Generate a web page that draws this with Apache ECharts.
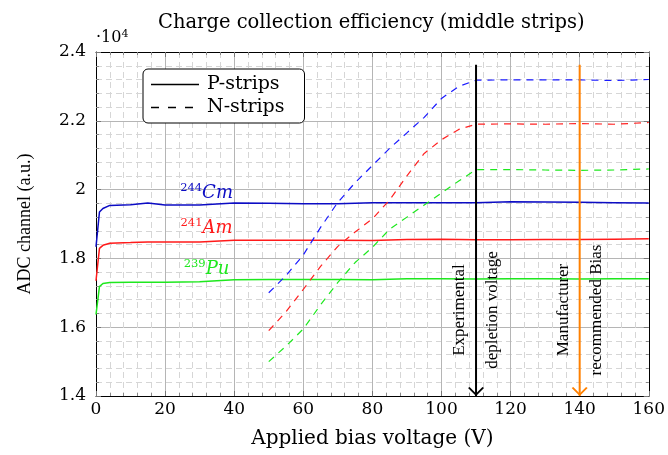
<!DOCTYPE html>
<html>
<head>
<meta charset="utf-8">
<script src="https://cdn.jsdelivr.net/npm/echarts@6/dist/echarts.min.js"></script>
<style>
  html, body { margin: 0; padding: 0; background: #fff; }
  #main { width: 668px; height: 455px; }
</style>
</head>
<body>
<div id="main"></div>
<script>
// bias voltage (V) for the P-strip scans
const voltsP = [0, 1, 2, 4, 10, 15, 20, 30, 40, 50, 60, 70, 80, 90, 100, 110, 120, 130, 140, 150, 160];
const cmP = [1.834, 1.935, 1.945, 1.954, 1.956, 1.961, 1.955, 1.955, 1.961, 1.960, 1.959, 1.959, 1.962, 1.962, 1.962, 1.962, 1.965, 1.964, 1.963, 1.962, 1.961];
const amP = [1.735, 1.829, 1.838, 1.844, 1.846, 1.848, 1.848, 1.848, 1.853, 1.853, 1.853, 1.853, 1.852, 1.855, 1.856, 1.854, 1.854, 1.855, 1.855, 1.856, 1.857];
const puP = [1.637, 1.718, 1.727, 1.730, 1.731, 1.731, 1.731, 1.732, 1.738, 1.739, 1.739, 1.739, 1.738, 1.741, 1.741, 1.740, 1.741, 1.741, 1.740, 1.741, 1.741];

// N-strip scans
const voltsN = [50, 55, 60, 65, 70, 75, 80, 85, 90, 95, 100, 105, 110, 120, 130, 140, 150, 160];
const cmN = [1.700, 1.750, 1.810, 1.890, 1.963, 2.020, 2.070, 2.120, 2.165, 2.210, 2.265, 2.300, 2.318, 2.319, 2.319, 2.319, 2.317, 2.320];
const amN = [1.590, 1.645, 1.710, 1.777, 1.835, 1.877, 1.915, 1.970, 2.040, 2.105, 2.145, 2.175, 2.190, 2.191, 2.190, 2.192, 2.190, 2.195];
const puN = [1.500, 1.545, 1.595, 1.665, 1.730, 1.788, 1.832, 1.885, 1.920, 1.955, 1.990, 2.025, 2.058, 2.058, 2.057, 2.056, 2.057, 2.060];

// x ticks / y ticks (in units of 10^4)
const xTicks = { min: 0, max: 160, step: 20 };
const yTicks = { min: 1.4, max: 2.4, step: 0.2 };

// marker lines
const depletionV = 110;
const recommendedV = 140;
const markerTop = 2.363;
const noteY = 1.65;

// isotope label positions [V, value]
const isoLabels = [
  { sup: '244', el: 'Cm', at: [32, 1.99] },
  { sup: '241', el: 'Am', at: [32, 1.887] },
  { sup: '239', el: 'Pu', at: [32, 1.769] }
];

const zip = (xs, ys) => xs.map((x, i) => [x, ys[i]]);

const serif = 'DejaVu Serif';
const narrow = 'Liberation Serif';
const chevron = 'path://M0,1 L1.6,0 L8,6.6 L14.4,0 L16,1 L8,9 Z';
// legend samples: a plain rule and a three-dash rule
const solidIcon = 'path://M0,0H48V1H0Z';
const dashIcon = 'path://M0,0H8V1H0Z M17,0H25V1H17Z M34,0H42V1H34Z M47.9,0H48V0.01H47.9Z';

function isoPoint(d, color) {
  return {
    coord: d.at, symbolSize: 0,
    label: {
      show: true, position: 'inside',
      formatter: '{s|' + d.sup + '}{e|' + d.el + '}',
      rich: {
        s: { fontFamily: serif, fontSize: 11.5, color: color, verticalAlign: 'top', lineHeight: 13 },
        e: { fontFamily: serif, fontSize: 18, fontStyle: 'italic', color: color, lineHeight: 22 }
      }
    }
  };
}

function solid(name, data, color, iso) {
  return {
    name: name, type: 'line', data: data, symbol: 'none', silent: true,
    lineStyle: { color: color, width: 1.5 }, z: 4,
    markPoint: { silent: true, data: [isoPoint(iso, color)] }
  };
}

function dashed(name, data, color) {
  return {
    name: name, type: 'line', data: data, symbol: 'none', silent: true,
    lineStyle: { color: color, width: 1.2, type: [7, 6] }, z: 4
  };
}

function marker(v, color, text) {
  return {
    type: 'line', data: [[v, markerTop], [v, yTicks.min]], symbol: 'none', silent: true,
    lineStyle: { color: color, width: 2 }, z: 5,
    markPoint: {
      silent: true,
      data: [
        { coord: [v, yTicks.min], symbol: chevron, symbolSize: [16, 9], symbolOffset: [0, '-50%'],
          itemStyle: { color: color }, label: { show: false } },
        { coord: [v, noteY], symbolSize: 0,
          label: { show: true, position: 'inside', rotate: 90, formatter: text,
            fontFamily: narrow, fontSize: 17, lineHeight: 33, color: '#000' } }
      ]
    }
  };
}

const tickFont = { fontFamily: serif, fontSize: 17, color: '#000' };
const minorGrid = { show: true, lineStyle: { color: '#d6d6d6', width: 1, type: [6, 4] } };
const majorGrid = { show: true, lineStyle: { color: '#b5b5b5', width: 1 } };
const axisTick = { show: true, inside: true, length: 5, lineStyle: { color: '#777' } };
const minorTick = { show: true, splitNumber: 5, length: 3, lineStyle: { color: '#888' } };

const chart = echarts.init(document.getElementById('main'));
chart.setOption({
  animation: false,
  backgroundColor: '#fff',
  title: [
    { text: 'Charge collection efficiency (middle strips)', left: 158, top: 13, padding: 0,
      textStyle: { fontFamily: serif, fontSize: 19.5, fontWeight: 'normal', color: '#000' } },
    { text: '{a|·10}{b|4}', left: 96, top: 29, padding: 0,
      textStyle: { fontWeight: 'normal', rich: {
        a: { fontFamily: serif, fontSize: 16, fontWeight: 'normal', color: '#000', lineHeight: 18 },
        b: { fontFamily: serif, fontSize: 11, fontWeight: 'normal', color: '#000', verticalAlign: 'top', lineHeight: 12 }
      } } }
  ],
  legend: {
    data: [{ name: 'P-strips', icon: solidIcon }, { name: 'N-strips', icon: dashIcon }],
    orient: 'vertical', left: 143, top: 69,
    itemWidth: 48, itemHeight: 1.5, itemGap: 2, symbolKeepAspect: false,
    padding: [5, 20, 5, 8],
    borderColor: '#000', borderWidth: 1, borderRadius: 5, backgroundColor: '#fff',
    itemStyle: { color: '#000', borderWidth: 0 },
    textStyle: { fontFamily: serif, fontSize: 19, color: '#000', lineHeight: 21, padding: [0, 0, 0, 3] },
    selectedMode: false
  },
  grid: { left: 96, right: 16, top: 52, bottom: 59 },
  xAxis: [
    { type: 'value', min: xTicks.min, max: xTicks.max, interval: xTicks.step,
      name: 'Applied bias voltage (V)', nameLocation: 'middle', nameGap: 33,
      nameTextStyle: { fontFamily: serif, fontSize: 20, color: '#000' },
      axisLine: { show: true, onZero: false, lineStyle: { color: '#000', width: 1 } },
      axisTick: axisTick, minorTick: minorTick,
      axisLabel: Object.assign({ margin: 5 }, tickFont),
      splitLine: majorGrid, minorSplitLine: minorGrid },
    { type: 'value', position: 'top', min: xTicks.min, max: xTicks.max, interval: xTicks.step,
      axisLine: { show: true, onZero: false, lineStyle: { color: '#000', width: 1 } },
      axisTick: axisTick, minorTick: minorTick,
      axisLabel: { show: false }, splitLine: { show: false } }
  ],
  yAxis: [
    { type: 'value', min: yTicks.min, max: yTicks.max, interval: yTicks.step,
      name: 'ADC channel (a.u.)', nameLocation: 'middle', nameGap: 62,
      nameTextStyle: { fontFamily: narrow, fontSize: 18, color: '#000' },
      axisLine: { show: true, onZero: false, lineStyle: { color: '#000', width: 1 } },
      axisTick: axisTick, minorTick: minorTick,
      axisLabel: Object.assign({ margin: 10, formatter: v => String(+v.toFixed(1)) }, tickFont),
      splitLine: majorGrid, minorSplitLine: minorGrid },
    { type: 'value', position: 'right', min: yTicks.min, max: yTicks.max, interval: yTicks.step,
      axisLine: { show: true, onZero: false, lineStyle: { color: '#000', width: 1 } },
      axisTick: axisTick, minorTick: minorTick,
      axisLabel: { show: false }, splitLine: { show: false } }
  ],
  series: [
    // legend-only entries (their single point lies outside the axes and is clipped)
    { name: 'P-strips', type: 'line', data: [[-10, 0]], symbol: 'none',
      color: '#000', lineStyle: { color: '#000', width: 1 } },
    { name: 'N-strips', type: 'line', data: [[-10, 0]], symbol: 'none',
      color: '#000', lineStyle: { color: '#000', width: 1, type: [7, 5] } },
    solid('Cm P', zip(voltsP, cmP), '#0c0cc4', isoLabels[0]),
    solid('Am P', zip(voltsP, amP), '#ff1a1a', isoLabels[1]),
    solid('Pu P', zip(voltsP, puP), '#1ee81e', isoLabels[2]),
    dashed('Cm N', zip(voltsN, cmN), '#1a1aff'),
    dashed('Am N', zip(voltsN, amN), '#ff2222'),
    dashed('Pu N', zip(voltsN, puN), '#1ee81e'),
    marker(depletionV, '#000', 'Experimental\ndepletion voltage'),
    marker(recommendedV, '#ff8000', 'Manufacturer\nrecommended Bias')
  ]
});
</script>
</body>
</html>
